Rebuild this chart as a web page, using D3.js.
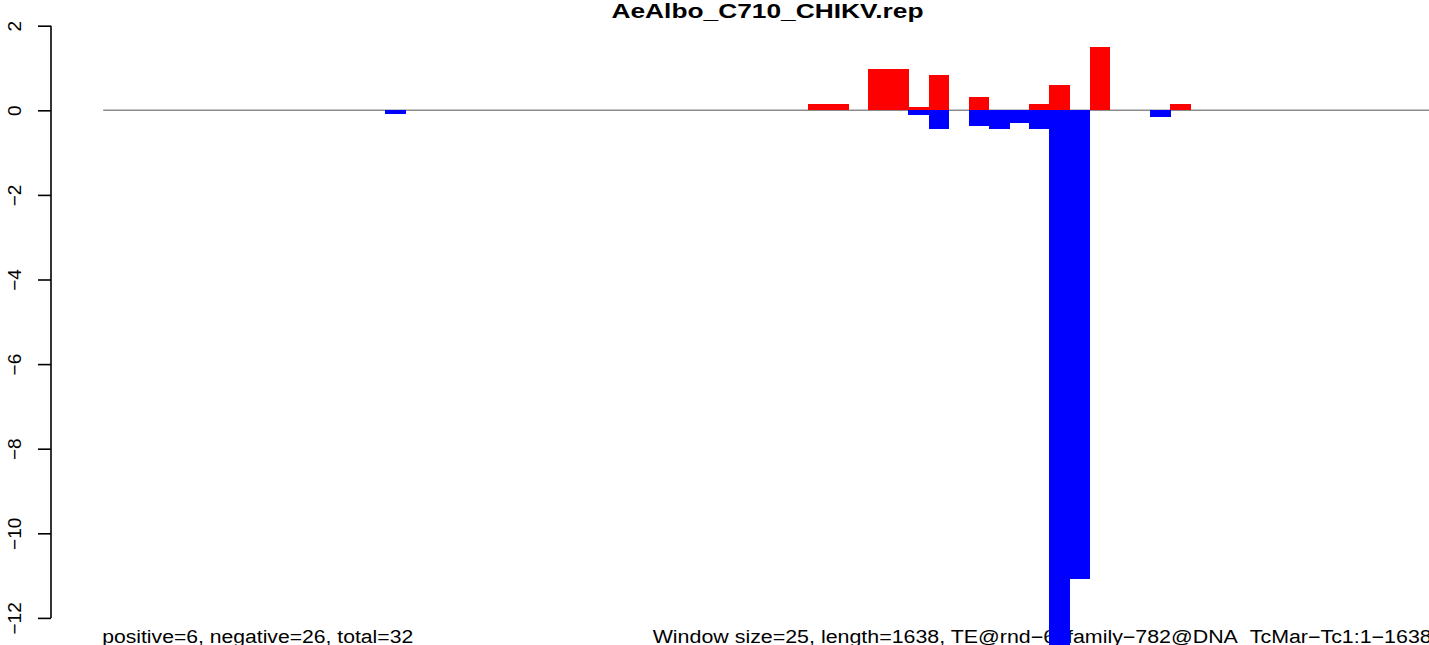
<!DOCTYPE html>
<html>
<head>
<meta charset="utf-8">
<script src="https://cdn.jsdelivr.net/npm/d3@7"></script>
<style>
  html, body { margin: 0; padding: 0; background: #fff; }
  svg { display: block; }
  text { font-family: "Liberation Sans", Arial, Helvetica, sans-serif; fill: #000; }
</style>
</head>
<body>
<svg id="chart" width="1429" height="645"></svg>
<script>
// ---- data ----
const title = "AeAlbo_C710_CHIKV.rep";
const nWindows = 66;
// window indices (0-based, 25 bp windows) with non-zero values
const posWindows = [35, 36, 38, 39, 40, 41, 43, 46, 47, 49, 53];
const posValues  = [0.14, 0.14, 0.97, 0.97, 0.07, 0.83, 0.31, 0.14, 0.59, 1.49, 0.14];
const negWindows = [14, 40, 41, 43, 44, 45, 46, 47, 48, 52];
const negValues  = [-0.09, -0.10, -0.45, -0.38, -0.45, -0.31, -0.45, -12.7, -11.08, -0.17];
const yTicks = [2, 0, -2, -4, -6, -8, -10, -12];
const leftNote = "positive=6, negative=26, total=32";
const rightNote = "Window size=25, length=1638, TE@rnd\u22126_family\u2212782@DNA_TcMar\u2212Tc1:1\u22121638";

// ---- layout ----
const W = 1429, H = 645;
const svg = d3.select("#chart");
const x = d3.scaleLinear().domain([0, nWindows]).range([103.2, 103.2 + nWindows * 20.13]);
const y = d3.scaleLinear().domain([0, -12]).range([110.3, 617.9]);

// zero reference line
svg.append("line")
  .attr("x1", x(0)).attr("x2", W)
  .attr("y1", y(0)).attr("y2", y(0))
  .attr("stroke", "#8c8c8c").attr("stroke-width", 1.4);

// bars
const posData = posWindows.map((w, i) => ({w, v: posValues[i]}));
const negData = negWindows.map((w, i) => ({w, v: negValues[i]}));

svg.append("g").attr("shape-rendering", "crispEdges")
  .selectAll("rect").data(posData).join("rect")
  .attr("x", d => x(d.w))
  .attr("width", d => x(d.w + 1) - x(d.w) + 0.5)
  .attr("y", d => y(d.v))
  .attr("height", d => y(0) - y(d.v))
  .attr("fill", "#ff0000");

// bottom notes (drawn before negative bars: bar covers part of text)
svg.append("text")
  .attr("x", x(0) - 1).attr("y", 642.5)
  .attr("font-size", 18)
  .attr("textLength", 311).attr("lengthAdjust", "spacingAndGlyphs")
  .text(leftNote);

svg.append("text")
  .attr("x", 652.7).attr("y", 642.5)
  .attr("font-size", 18)
  .attr("textLength", 779).attr("lengthAdjust", "spacingAndGlyphs")
  .text(rightNote);

svg.append("g").attr("shape-rendering", "crispEdges")
  .selectAll("rect").data(negData).join("rect")
  .attr("x", d => x(d.w))
  .attr("width", d => x(d.w + 1) - x(d.w) + 0.5)
  .attr("y", y(0))
  .attr("height", d => y(d.v) - y(0))
  .attr("fill", "#0000ff");

// y axis
const axisX = 51;
const yAxis = d3.axisLeft(y)
  .tickValues(yTicks)
  .tickSize(13)
  .tickFormat(d => String(d).replace("-", "\u2212"));
const gAxis = svg.append("g").attr("transform", `translate(${axisX},0)`).call(yAxis);
gAxis.select(".domain").attr("stroke", "#000").attr("stroke-width", 1.6)
  .attr("d", `M0,${y(2)}V${y(-12)}`);
gAxis.selectAll(".tick line").attr("stroke", "#000").attr("stroke-width", 1.6);
gAxis.selectAll(".tick text")
  .attr("font-family", "Liberation Sans, Arial, sans-serif")
  .attr("font-size", 19)
  .attr("fill", "#000")
  .attr("text-anchor", "middle")
  .attr("x", null).attr("dy", null)
  .attr("transform", `translate(${21 - axisX},0) rotate(-90)`)
  .attr("y", 0);

// title
svg.append("text")
  .attr("x", (x(0) + x(nWindows)) / 2).attr("y", 18)
  .attr("text-anchor", "middle")
  .attr("font-size", 21).attr("font-weight", "bold")
  .attr("textLength", 312).attr("lengthAdjust", "spacingAndGlyphs")
  .text(title);
</script>
</body>
</html>
